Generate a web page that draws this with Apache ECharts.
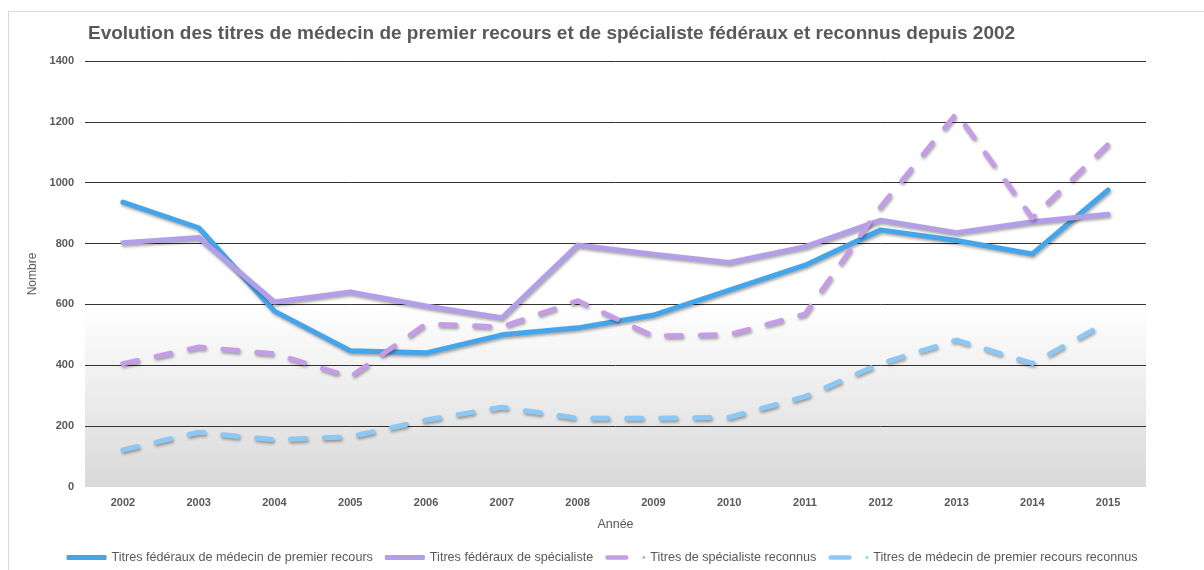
<!DOCTYPE html>
<html>
<head>
<meta charset="utf-8">
<script src="https://cdn.jsdelivr.net/npm/echarts@6/dist/echarts.min.js"></script>
<style>
  * { margin: 0; padding: 0; }
  body { background: #fff; }
  #frame { position: absolute; left: 8px; top: 11px; width: 1210px; height: 580px; border: 1px solid #d9d9d9; }
  #main { position: absolute; left: 0; top: 0; width: 1204px; height: 570px; }
</style>
</head>
<body>
<div id="frame"></div>
<div id="main"></div>
<script>
  // données
  var annees = ['2002','2003','2004','2005','2006','2007','2008','2009','2010','2011','2012','2013','2014','2015'];
  var federauxPremierRecours = [936, 852, 578, 448, 441, 500, 523, 565, 647, 729, 845, 810, 766, 976];
  var federauxSpecialiste = [803, 820, 608, 641, 595, 556, 795, 765, 738, 790, 877, 836, 872, 896];
  var specialisteReconnus = [405, 460, 438, 362, 536, 526, 612, 496, 501, 568, 921, 1228, 884, 1126];
  var premierRecoursReconnus = [122, 180, 155, 165, 220, 262, 226, 226, 229, 297, 406, 483, 406, 543];
  var yTicks = [0, 1400, 200]; // min, max, pas

  var textColor = '#595959';
  var police = 'Liberation Sans, Arial';
  var shadow = { shadowColor: 'rgba(0,0,0,0.35)', shadowBlur: 3, shadowOffsetX: 1, shadowOffsetY: 2 };
  // icônes de légende : trait plein ou tiret + point
  var iconePlein = 'roundRect';
  var iconeTiret = 'path://M2,0L18,0A2,2 0 0 1 18,4L2,4A2,2 0 0 1 2,0ZM33,0.8A1.2,1.2 0 1 1 33,3.2A1.2,1.2 0 1 1 33,0.8Z';

  function serie (name, data, color, dashed) {
    return {
      name: name,
      type: 'line',
      data: data,
      symbol: 'none',
      color: color,
      lineStyle: Object.assign({
        color: color,
        width: 5,
        type: dashed ? [15, 19] : 'solid',
        cap: 'round',
        join: 'round'
      }, shadow)
    }
  }

  var chart = echarts.init(document.getElementById('main'));
  chart.setOption({
    animation: false,
    title: {
      text: 'Evolution des titres de médecin de premier recours et de spécialiste fédéraux et reconnus depuis 2002',
      left: 83,
      top: 19,
      textStyle: { color: textColor, fontSize: 19, fontWeight: 'bold', fontFamily: police }
    },
    legend: {
      bottom: 1,
      left: 'center',
      itemWidth: 40,
      itemHeight: 5,
      itemGap: 12,
      textStyle: { color: textColor, fontSize: 12.6, fontFamily: police },
      data: [
        { name: 'Titres fédéraux de médecin de premier recours', icon: iconePlein },
        { name: 'Titres fédéraux de spécialiste', icon: iconePlein },
        { name: 'Titres de spécialiste reconnus', icon: iconeTiret },
        { name: 'Titres de médecin de premier recours reconnus', icon: iconeTiret }
      ]
    },
    grid: {
      left: 85,
      right: 58,
      top: 61,
      bottom: 83,
      show: true,
      borderWidth: 0,
      backgroundColor: new echarts.graphic.LinearGradient(0, 0, 0, 1, [
        { offset: 0, color: '#ffffff' },
        { offset: 0.57, color: '#ffffff' },
        { offset: 1, color: '#d9d9d9' }
      ])
    },
    xAxis: {
      type: 'category',
      data: annees,
      name: 'Année',
      nameLocation: 'middle',
      nameGap: 31,
      nameTextStyle: { color: textColor, fontSize: 12.5, fontFamily: police },
      axisLine: { show: false },
      axisTick: { show: false },
      axisLabel: { color: textColor, fontSize: 11, fontWeight: 'bold', margin: 10, fontFamily: police }
    },
    yAxis: {
      type: 'value',
      min: yTicks[0],
      max: yTicks[1],
      interval: yTicks[2],
      name: 'Nombre',
      nameLocation: 'middle',
      nameGap: 43,
      nameTextStyle: { color: textColor, fontSize: 12, fontFamily: police },
      axisLine: { show: false },
      axisTick: { show: false },
      axisLabel: { color: textColor, fontSize: 11, fontWeight: 'bold', margin: 11, fontFamily: police, formatter: function (v) { return String(v) } },
      splitLine: { lineStyle: { color: ['transparent', '#333', '#333', '#333', '#333', '#333', '#333', '#333'], width: 1 } }
    },
    series: [
      serie('Titres fédéraux de médecin de premier recours', federauxPremierRecours, '#44a5ea', false),
      serie('Titres fédéraux de spécialiste', federauxSpecialiste, '#b29fe8', false),
      serie('Titres de spécialiste reconnus', specialisteReconnus, '#c59de6', true),
      serie('Titres de médecin de premier recours reconnus', premierRecoursReconnus, '#8dc8f4', true)
    ]
  });
</script>
</body>
</html>
